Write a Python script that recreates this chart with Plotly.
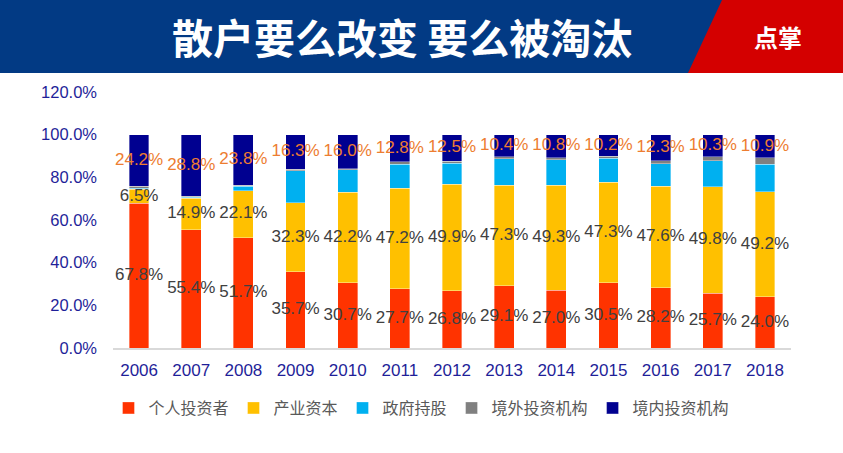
import plotly.graph_objects as go

years = ["2006", "2007", "2008", "2009", "2010", "2011", "2012",
         "2013", "2014", "2015", "2016", "2017", "2018"]
individual = [67.8, 55.4, 51.7, 35.7, 30.7, 27.7, 26.8, 29.1, 27.0, 30.5, 28.2, 25.7, 24.0]
industrial = [6.5, 14.9, 22.1, 32.3, 42.2, 47.2, 49.9, 47.3, 49.3, 47.3, 47.6, 49.8, 49.2]
government = [0.5, 0.4, 2.0, 15.2, 10.6, 11.3, 10.0, 12.4, 12.0, 11.2, 10.6, 12.2, 12.9]
foreign = [1.0, 0.5, 0.4, 0.5, 0.5, 1.0, 0.8, 0.8, 0.9, 0.8, 1.3, 2.0, 3.0]
domestic = [24.2, 28.8, 23.8, 16.3, 16.0, 12.8, 12.5, 10.4, 10.8, 10.2, 12.3, 10.3, 10.9]

series_names = ["个人投资者", "产业资本", "政府持股", "境外投资机构", "境内投资机构"]
series_vals = [individual, industrial, government, foreign, domestic]
colors = ["#FF3300", "#FFC000", "#00B0F0", "#808080", "#000090"]

title_text = "散户要么改变 要么被淘汰"
badge_text = "点掌"

# plot area in pixels
W_PX, H_PX = 843, 453
L, R, T, B = 113, 791, 92, 348


def px(xp):
    return (xp - L) / (R - L)


def py(yp):
    return (B - yp) / (B - T)


fig = go.Figure()
for name, vals, col in zip(series_names, series_vals, colors):
    fig.add_trace(go.Bar(
        x=years, y=vals, name=name, marker_color=col,
        marker_line=dict(color="rgba(255,255,255,0.6)", width=0.6),
        hoverinfo="skip"))


def centres(base_list, vals):
    return [b + v / 2 for b, v in zip(base_list, vals)]


base0 = [0] * len(years)
base1 = individual
base4 = [a + b + c + d for a, b, c, d in zip(individual, industrial, government, foreign)]

label_font = dict(family="Arial, Liberation Sans, sans-serif", size=17)
for base, vals, col in [(base0, individual, "#404040"),
                        (base1, industrial, "#404040"),
                        (base4, domestic, "#ED7D31")]:
    fig.add_trace(go.Scatter(
        x=years, y=centres(base, vals), mode="text",
        text=[f"{v:.1f}%" for v in vals],
        textfont=dict(color=col, **label_font),
        showlegend=False, hoverinfo="skip"))

shapes = [
    dict(type="rect", xref="paper", yref="paper",
         x0=px(0), x1=px(W_PX), y0=py(73), y1=py(0),
         fillcolor="#023A84", line_width=0, layer="below"),
    dict(type="path", xref="paper", yref="paper",
         path=f"M {px(722)} {py(0)} L {px(W_PX)} {py(0)} L {px(W_PX)} {py(73)} L {px(688)} {py(73)} Z",
         fillcolor="#D40000", line_width=0, layer="below"),
]

annotations = [
    dict(text=f"<b>{title_text}</b>", xref="paper", yref="paper",
         x=px(402), y=py(36), showarrow=False, xanchor="center", yanchor="middle",
         font=dict(family="Noto Sans CJK SC", size=41, color="white")),
    dict(text=f"<b>{badge_text}</b>", xref="paper", yref="paper",
         x=px(778), y=py(36), showarrow=False, xanchor="center", yanchor="middle",
         font=dict(family="Noto Sans CJK SC", size=24, color="white")),
]

fig.update_layout(
    width=W_PX, height=H_PX,
    margin=dict(l=L, r=W_PX - R, t=T, b=H_PX - B),
    barmode="stack", bargap=0.62,
    plot_bgcolor="white", paper_bgcolor="white",
    shapes=shapes, annotations=annotations,
    showlegend=True,
    legend=dict(orientation="h", x=0.455, xanchor="center", y=py(408), yanchor="middle",
                font=dict(family="Noto Sans CJK SC", size=16, color="#595959"),
                itemwidth=30, traceorder="normal"),
    xaxis=dict(type="category", range=[-0.5, len(years) - 0.5],
               showgrid=False, showline=True, linecolor="#D9D9D9",
               linewidth=1.5, ticks="", ticklabelstandoff=6,
               tickfont=dict(family="Arial, Liberation Sans, sans-serif", size=17, color="#1F1F99")),
    yaxis=dict(range=[0, 120], dtick=20, tickformat=".1f", ticksuffix="%",
               showgrid=False, showline=False, zeroline=False, ticks="",
               ticklabelstandoff=15,
               tickfont=dict(family="Arial, Liberation Sans, sans-serif", size=16.5, color="#1F1F99")),
)

post = ("document.body.style.margin='0';document.body.style.padding='0';"
        "document.body.style.overflow='hidden';"
        "var gd=document.getElementById('{plot_id}');"
        "Plotly.relayout(gd,{width:%d,height:%d});" % (W_PX, H_PX))

fig.write_html("out.html", post_script=post, config={"displayModeBar": False})
